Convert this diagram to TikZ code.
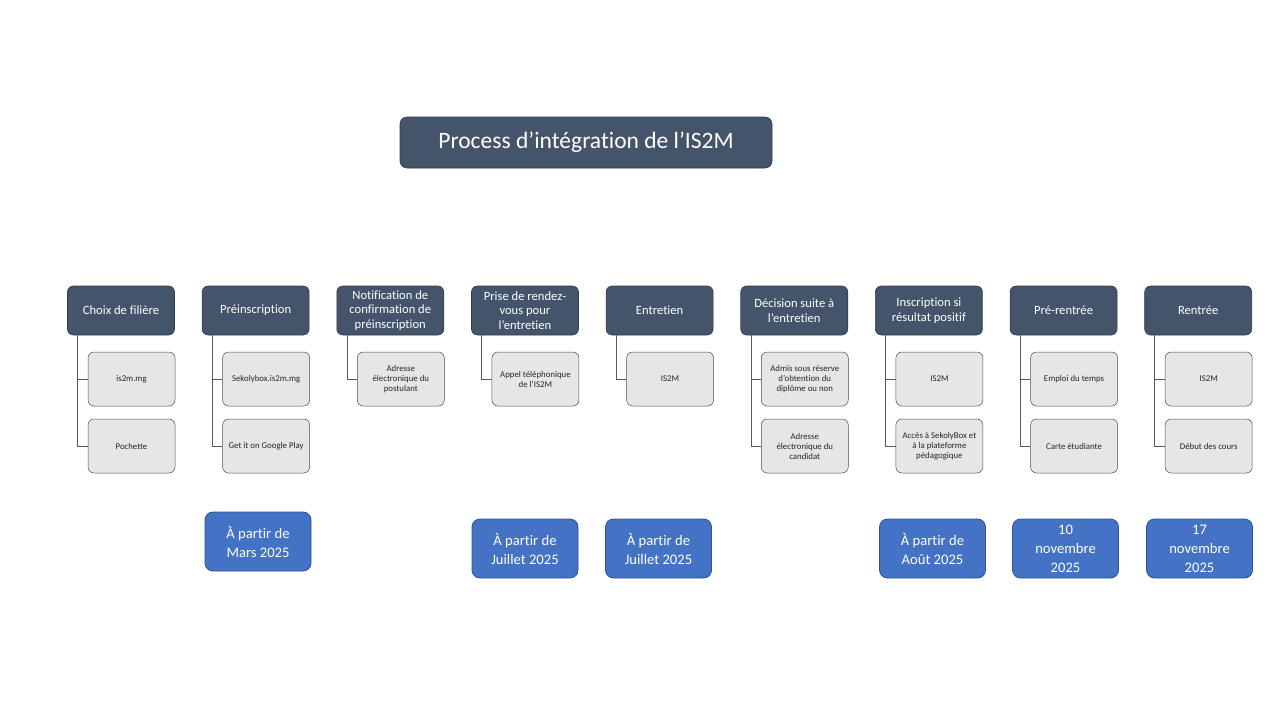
\documentclass[tikz,border=0pt]{standalone}
\usepackage{fontspec}
\setmainfont{Carlito}[Ligatures=NoCommon]
\definecolor{ardoise}{HTML}{44546A}
\definecolor{ardoisefonce}{HTML}{2F3B4B}
\definecolor{grisclair}{HTML}{E7E6E6}
\definecolor{bleu}{HTML}{4472C4}
\definecolor{bleufonce}{HTML}{2F528F}
\begin{document}
\begin{tikzpicture}[x=1pt,y=-1pt,
    titre/.style={rectangle,rounded corners=7pt,fill=ardoise,draw=ardoisefonce,line width=0.6pt,
        text=white,minimum width=372pt,minimum height=51pt,font=\fontsize{23.5}{28}\selectfont},
    etape/.style={rectangle,rounded corners=6pt,fill=ardoise,draw=ardoisefonce,line width=0.6pt,
        text=white,minimum width=107pt,minimum height=49pt,inner sep=1pt,align=center,
        font=\fontsize{12.6}{14.5}\selectfont},
    detail/.style={rectangle,rounded corners=6pt,fill=grisclair,draw=black!70,line width=0.5pt,
        text=black!85,minimum width=87pt,minimum height=54pt,inner sep=1pt,align=center,
        font=\fontsize{8.8}{10}\selectfont},
    date/.style={rectangle,rounded corners=8pt,fill=bleu,draw=bleufonce,line width=0.8pt,
        text=white,minimum width=106pt,minimum height=59pt,inner sep=0pt,align=center,
        font=\fontsize{14.6}{19}\selectfont},
    lien/.style={draw=black!65,line width=0.9pt}]
    \useasboundingbox (0,0) rectangle (1280,720);
    \node[titre] (titre) at (586,142.5) {Process d’intégration de l’IS2M};
    \foreach \i/\txt in {1/Choix de filière, 2/Préinscription,
        3/{Notification de\\confirmation de\\préinscription},
        4/{Prise de rendez-\\vous pour\\l’entretien}, 5/Entretien,
        6/{Décision suite à\\l’entretien}, 7/{Inscription si\\résultat positif},
        8/Pré-rentrée, 9/Rentrée}{
        \node[etape] (e\i) at ({121+134.65*(\i-1)},310.5) {\txt};
    }
    \foreach \i/\j/\txt in {1/1/is2m.mg, 1/2/Pochette,
        2/1/Sekolybox.is2m.mg, 2/2/Get it on Google Play,
        3/1/{Adresse\\électronique du\\postulant},
        4/1/{Appel téléphonique\\de l’IS2M}, 5/1/IS2M,
        6/1/{Admis sous réserve\\d’obtention du\\diplôme ou non},
        6/2/{Adresse\\électronique du\\candidat},
        7/1/IS2M, 7/2/{Accès à SekolyBox et\\à la plateforme\\pédagogique},
        8/1/Emploi du temps, 8/2/Carte étudiante,
        9/1/IS2M, 9/2/Début des cours}{
        \node[detail] (d\i\j) at ({131.5+134.65*(\i-1)},{379+67*(\j-1)}) {\txt};
        \draw[lien] ([xshift=10.5pt]e\i.south west) |- (d\i\j.west);
    }
    \foreach \i/\x/\y/\txt in {2/258/541.5/{À partir de\\Mars 2025},
        4/525/548.5/{À partir de\\Juillet 2025}, 5/658.5/548.5/{À partir de\\Juillet 2025},
        7/932.5/548.5/{À partir de\\Août 2025}, 8/1065.5/548.5/{10\\novembre\\2025},
        9/1199.5/548.5/{17\\novembre\\2025}}{
        \node[date] (t\i) at (\x,\y) {\txt};
    }
\end{tikzpicture}
\end{document}
